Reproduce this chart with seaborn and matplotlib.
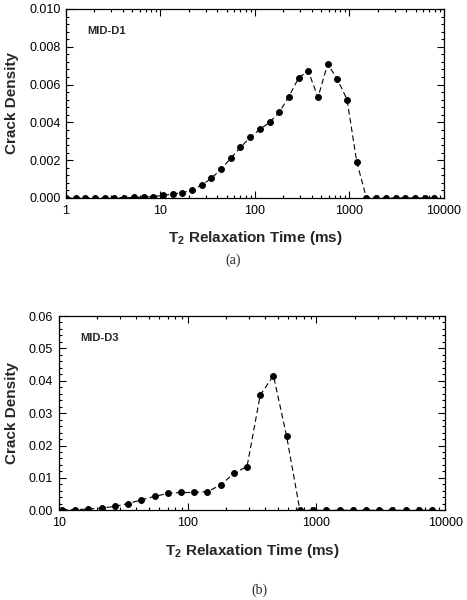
import matplotlib
matplotlib.use("Agg")
import matplotlib.pyplot as plt
import matplotlib.ticker as mticker
import seaborn as sns

# T2 relaxation time grid (ms), log spaced bins
t2_a = [1, 1.266, 1.604, 2.031, 2.572, 3.257, 4.125, 5.224, 6.615, 8.377,
        10.61, 13.43, 17.01, 21.54, 27.28, 34.55, 43.75, 55.40, 70.16, 88.85,
        112.5, 142.5, 180.5, 228.5, 289.4, 366.5, 464.1, 587.7, 744.3, 942.5,
        1194, 1512, 1914, 2424, 3070, 3888, 4923, 6235, 7896]
crack_a = [0.0, 0.0, 0.0, 0.00001, 0.00001, 0.00002, 0.00002, 0.00003, 0.00004, 0.00007,
           0.00014, 0.00021, 0.00028, 0.00042, 0.00068, 0.00104, 0.00153, 0.0021, 0.00268, 0.00321,
           0.00363, 0.0040, 0.00453, 0.00537, 0.00635, 0.00672, 0.00532, 0.00709, 0.00628, 0.00521,
           0.00191, 0.0, 0.0, 0.0, 0.0, 0.0, 0.0, 0.0, 0.0]

t2_b = [10.61, 13.43, 17.01, 21.54, 27.28, 34.55, 43.75, 55.40, 70.16, 88.85,
        112.5, 142.5, 180.5, 228.5, 289.4, 366.5, 464.1, 587.7, 744.3, 942.5,
        1194, 1512, 1914, 2424, 3070, 3888, 4923, 6235, 7896]
crack_b = [0.0002, 0.0002, 0.0004, 0.0007, 0.0012, 0.0021, 0.0032, 0.0043, 0.0052, 0.0055,
           0.0055, 0.0058, 0.0078, 0.0114, 0.0135, 0.0356, 0.0416, 0.0228, 0.0, 0.0,
           0.0, 0.0, 0.0, 0.0, 0.0, 0.0, 0.0, 0.0, 0.0]

sns.set_style("ticks")
plt.rcParams["font.family"] = ["Liberation Sans", "DejaVu Sans"]
plt.rcParams["mathtext.fontset"] = "custom"
plt.rcParams["mathtext.bf"] = "Liberation Sans:bold"
plt.rcParams["mathtext.rm"] = "Liberation Sans:bold"
plt.rcParams["mathtext.default"] = "bf"

fig = plt.figure(figsize=(4.67, 6.0), dpi=100)
ax_a = fig.add_axes([0.1413, 0.670, 0.8094, 0.315])
ax_b = fig.add_axes([0.1257, 0.1495, 0.8278, 0.3238])


def style_axis(ax, xlim, ylim, ystep, yfmt, label, lx):
    ax.set_xscale("log")
    ax.set_xlim(*xlim)
    ax.set_ylim(*ylim)
    ax.yaxis.set_major_locator(mticker.MultipleLocator(ystep))
    ax.yaxis.set_minor_locator(mticker.MultipleLocator(ystep / 5))
    ax.yaxis.set_major_formatter(mticker.FormatStrFormatter(yfmt))
    ax.xaxis.set_major_formatter(mticker.FuncFormatter(lambda v, p: f"{v:g}"))
    ax.xaxis.set_minor_formatter(mticker.NullFormatter())
    ax.tick_params(which="both", direction="in", top=True, right=True,
                   labelsize=9, colors="black", width=0.8)
    ax.tick_params(which="major", length=5)
    ax.tick_params(which="minor", length=2.5)
    ax.tick_params(axis="y", pad=4)
    ax.tick_params(axis="x", pad=5)
    for s in ax.spines.values():
        s.set_linewidth(0.9)
        s.set_color("black")
    ax.set_ylabel("Crack Density", fontsize=11, fontweight="bold", labelpad=7)
    ax.set_xlabel("T$_2$ Relaxation Time (ms)", fontsize=11, fontweight="bold", labelpad=9)
    ax.text(lx, 0.885, label, transform=ax.transAxes,
            fontsize=8, fontweight="bold", va="center")


for ax, x, y in [(ax_a, t2_a, crack_a), (ax_b, t2_b, crack_b)]:
    sns.lineplot(x=x, y=y, ax=ax, color="black", linestyle=(0, (5, 3)), linewidth=0.8,
                 marker="o", markersize=4.2, markeredgecolor="black")

style_axis(ax_a, (1, 10000), (0, 0.010), 0.002, "%.3f", "MID-D1", 0.057)
style_axis(ax_b, (10, 10000), (0, 0.06), 0.01, "%.2f", "MID-D3", 0.057)

fig.text(233 / 467, 1 - 260 / 600, "(a)", ha="center", va="center",
         fontsize=10, family=["Liberation Serif", "DejaVu Serif"])
fig.text(259 / 467, 1 - 590 / 600, "(b)", ha="center", va="center",
         fontsize=10, family=["Liberation Serif", "DejaVu Serif"])

fig.savefig("out.png", dpi=100)
